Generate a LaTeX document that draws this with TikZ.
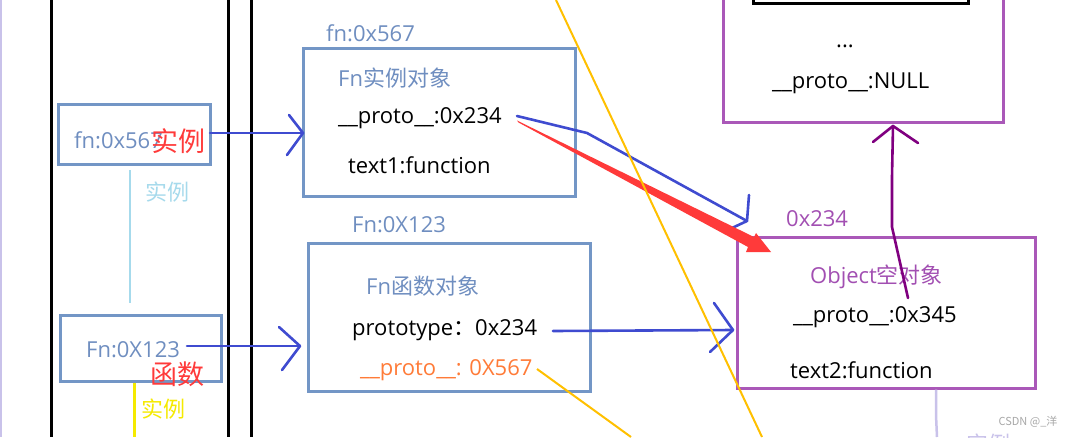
\documentclass[tikz,border=0pt]{standalone}
\usepackage{fontspec}
\setmainfont{Open Sans}
\newfontfamily\cjk{Noto Sans CJK SC}
\definecolor{boxblue}{HTML}{7396C6}
\definecolor{txtblue}{HTML}{6F8EC0}
\definecolor{arrblue}{HTML}{3F4BD0}
\definecolor{objpurple}{HTML}{AA58B8}
\definecolor{txtpurple}{HTML}{A24FB2}
\definecolor{darkpurple}{HTML}{800080}
\definecolor{redc}{HTML}{FF3A3A}
\definecolor{orangec}{HTML}{FF7B38}
\definecolor{goldc}{HTML}{FFC000}
\definecolor{yellowc}{HTML}{F5EA00}
\definecolor{lightblue}{HTML}{A6DAEC}
\definecolor{lavender}{HTML}{C9C2EA}
\definecolor{wmgray}{HTML}{A8A8A8}
\begin{document}
\begin{tikzpicture}[x=1pt,y=-1pt,
  bbox/.style={draw=boxblue,line width=3pt,inner sep=0pt},
  pbox/.style={draw=objpurple,line width=3pt,inner sep=0pt},
  lbl/.style={inner sep=0pt,anchor=base west,font=\fontsize{22}{26}\selectfont},
  cj/.style={inner sep=0pt,font=\cjk\fontsize{22}{26}\selectfont},
  cjbig/.style={inner sep=0pt,font=\cjk\fontsize{27}{30}\selectfont},
  conn/.style={draw=arrblue,line width=2.6pt,line cap=round,line join=round},
  pconn/.style={draw=darkpurple,line width=2.6pt,line cap=round,line join=round},
  vline/.style={draw=black,line width=3pt},
  yline/.style={draw=goldc,line width=2pt}
]
\useasboundingbox (0,0) rectangle (1069,437);
\clip (0,0) rectangle (1069,437);
\fill[white] (0,0) rectangle (1069,437);

% frame lines
\draw[draw=lavender,line width=2pt] (1,0) -- (1,437);
\draw[vline] (51.5,0) -- (51.5,437);
\draw[vline] (228,0) -- (228,437);
\draw[vline] (251,0) -- (251,437);

% boxes
\node[bbox,minimum width=152pt,minimum height=60pt] (leftA) at (134,134) {};
\node[bbox,minimum width=161pt,minimum height=66pt] (leftB) at (140.5,348) {};
\node[bbox,minimum width=272pt,minimum height=148pt] (inst) at (439,122) {};
\node[bbox,minimum width=282pt,minimum height=148pt] (func) at (449,317) {};
\node[pbox,minimum width=298pt,minimum height=151pt] (obj) at (886,312.5) {};
\node[pbox,minimum width=280pt,minimum height=132pt] (top) at (863,56) {};
\node[draw=black,line width=3pt,inner sep=0pt,minimum width=215pt,minimum height=14pt] (inner) at (860.5,-4) {};

% texts
\node[lbl,text=txtblue] (instlbl) at (326,41) {fn:0x567};
\node[lbl,text=txtblue] (insttitle) at (338,86) {Fn{\cjk 实例对象}};
\node[lbl] (instproto) at (338,123) {\_\_proto\_\_:0x234};
\node[lbl] (insttext) at (348,173) {text1:function};
\node[lbl,text=txtblue] (funclbl) at (352,232) {Fn:0X123};
\node[lbl,text=txtblue] (functitle) at (366,294) {Fn{\cjk 函数对象}};
\node[lbl] (funcproto) at (352,335) {prototype{\cjk ：}0x234};
\node[lbl,text=orangec] (funcup) at (360,375) {\_\_proto\_\_: 0X567};
\node[lbl,text=txtblue] (leftAt) at (74,148) {fn:0x567};
\node[lbl,text=txtblue] (leftBt) at (86,357) {Fn:0X123};
\node[cjbig,text=redc] (redA) at (178,141) {实例};
\node[cj,text=lightblue] (lbA) at (167,192) {实例};
\node[cjbig,text=redc] (redB) at (177,374) {函数};
\node[cj,text=yellowc] (ylB) at (163,409) {实例};
\node[lbl,text=txtpurple] (objlbl) at (786,226) {0x234};
\node[lbl,text=txtpurple] (objtitle) at (810,283) {Object{\cjk 空对象}};
\node[lbl] (objproto) at (793,322) {\_\_proto\_\_:0x345};
\node[lbl] (objtext) at (790,378) {text2:function};
\node[lbl] (dots) at (836,47) {...};
\node[lbl] (topproto) at (772,88) {\_\_proto\_\_:NULL};
\node[inner sep=0pt,font=\cjk\fontsize{11}{13}\selectfont,text=wmgray] (wm) at (1028,422) {CSDN @\_洋};
\node[cj,text=lavender] (cut) at (988,444) {实例};

% connector coordinates
\coordinate (aS) at (210,133); \coordinate (aT) at (303,133);
\coordinate (aH1) at (289,115); \coordinate (aH2) at (287,155);
\coordinate (bS) at (187,346); \coordinate (bT) at (300,346);
\coordinate (bH1) at (279,327); \coordinate (bH2) at (282,370);
\coordinate (cS) at (553,331); \coordinate (cT) at (733,330);
\coordinate (cH1) at (714,303); \coordinate (cH2) at (710,352);
\coordinate (dS) at (517,116); \coordinate (dM) at (587,133); \coordinate (dT) at (747,221);
\coordinate (dH1) at (749,195); \coordinate (dH2) at (732,228);
\coordinate (pS) at (908,298); \coordinate (pM1) at (892,227); \coordinate (pM2) at (892,177);
\coordinate (pT) at (893,126); \coordinate (pH1) at (873,142); \coordinate (pH2) at (918,143);

% light / yellow vertical connectors on the left
\draw[draw=lightblue,line width=2.4pt] (130,170) -- (130,303);
\draw[draw=yellowc,line width=3pt] (leftB.south -| 134,0) -- (134,437);

% blue connectors
\draw[conn] (aS) -- (aT);
\draw[conn] (aH1) -- (aT) -- (aH2);
\draw[conn] (bS) -- (bT);
\draw[conn] (bH1) -- (bT) -- (bH2);
\draw[conn] (cS) -- (cT);
\draw[conn] (cH1) -- (cT) -- (cH2);
\draw[conn] (dS) -- (dM) -- (dT);
\draw[conn] (dH1) -- (dT) -- (dH2);

% red arrow (tapering shaft and head)
\fill[redc] (517,120.5) -- (518.5,122.5) -- (748,247) -- (746,252) -- (771,252) -- (756,233) -- (754,237) -- cycle;

% purple connector
\draw[pconn] (pS) -- (pM1) -- (pM2) -- (pT);
\draw[pconn] (pH1) -- (pT) -- (pH2);

% lavender line below object
\draw[draw=lavender,line width=2.5pt] (obj.south -| 936,0) -- (936,415) -- (937,437);

% yellow lines
\draw[yline] (556,0) -- (762,437);
\draw[yline] (537,369) -- (631,437);
\end{tikzpicture}
\end{document}
